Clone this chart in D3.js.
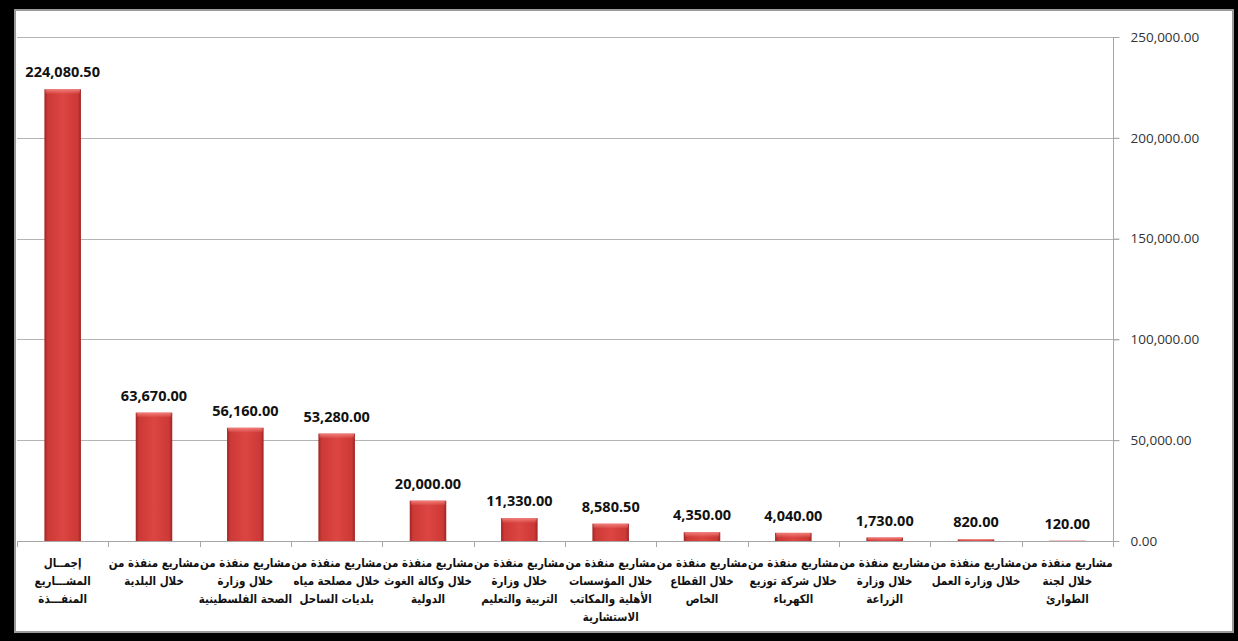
<!DOCTYPE html>
<html>
<head>
<meta charset="utf-8">
<script src="https://cdn.jsdelivr.net/npm/d3@7"></script>
<style>
  html, body { margin: 0; padding: 0; background: #000; }
  svg { display: block; }
</style>
</head>
<body>
<svg id="chart" width="1238" height="641"></svg>
<script>
// category labels, one array of lines per bar
const categoryLines = [
  ['إجمــال', 'المشـــاريع', 'المنفـــذة'],
  ['مشاريع منفذة من', 'خلال البلدية'],
  ['مشاريع منفذة من', 'خلال وزارة', 'الصحة الفلسطينية'],
  ['مشاريع منفذة من', 'خلال مصلحة مياه', 'بلديات الساحل'],
  ['مشاريع منفذة من', 'خلال وكالة الغوث', 'الدولية'],
  ['مشاريع منفذة من', 'خلال وزارة', 'التربية والتعليم'],
  ['مشاريع منفذة من', 'خلال المؤسسات', 'الأهلية والمكاتب', 'الاستشارية'],
  ['مشاريع منفذة من', 'خلال القطاع', 'الخاص'],
  ['مشاريع منفذة من', 'خلال شركة توزيع', 'الكهرباء'],
  ['مشاريع منفذة من', 'خلال وزارة', 'الزراعة'],
  ['مشاريع منفذة من', 'خلال وزارة العمل'],
  ['مشاريع منفذة من', 'خلال لجنة', 'الطوارئ']
];
const categories = categoryLines.map(l => l.join(' '));
const values = [224080.5, 63670, 56160, 53280, 20000, 11330, 8580.5, 4350, 4040, 1730, 820, 120];
const yTicks = [0, 50000, 100000, 150000, 200000, 250000];

const data = categories.map((c, i) => ({ cat: c, lines: categoryLines[i], value: values[i] }));

const svg = d3.select('#chart');

// white chart area with grey frame
svg.append('rect')
  .attr('x', 15).attr('y', 10).attr('width', 1218).attr('height', 622)
  .attr('fill', '#fff').attr('stroke', '#9a9a9a').attr('stroke-width', 2);

const plotLeft = 17, plotRight = 1113, plotTop = 37, plotBottom = 541;

const x = d3.scaleBand().domain(categories).range([plotLeft, plotRight])
  .paddingInner(0.6).paddingOuter(0.3);
const y = d3.scaleLinear().domain([0, 250000]).range([plotBottom, plotTop]);
const step = x.step();

// gradients for the bevelled bars
const defs = svg.append('defs');
const g1 = defs.append('linearGradient').attr('id', 'barH').attr('x1', 0).attr('x2', 1).attr('y1', 0).attr('y2', 0);
[['0%', '#9e2624'], ['9%', '#cc3936'], ['50%', '#dc4542'], ['91%', '#cc3936'], ['100%', '#9e2624']]
  .forEach(s => g1.append('stop').attr('offset', s[0]).attr('stop-color', s[1]));
const g2 = defs.append('linearGradient').attr('id', 'barTop').attr('x1', 0).attr('x2', 0).attr('y1', 0).attr('y2', 1);
g2.append('stop').attr('offset', '0%').attr('stop-color', '#f58580').attr('stop-opacity', 0.9);
g2.append('stop').attr('offset', '100%').attr('stop-color', '#f58580').attr('stop-opacity', 0);

// gridlines
svg.append('g').selectAll('line').data(yTicks).join('line')
  .attr('x1', plotLeft).attr('x2', plotRight + 6)
  .attr('y1', d => Math.round(y(d)) + 0.5).attr('y2', d => Math.round(y(d)) + 0.5)
  .attr('stroke', '#b4b4b4').attr('stroke-width', 1);

// right value axis
const yAxis = svg.append('g')
  .attr('transform', `translate(${plotRight + 0.5},0)`)
  .call(d3.axisRight(y).tickValues(yTicks).tickSize(6).tickPadding(11)
    .tickFormat(d => d3.format(',.2f')(d)));
yAxis.select('.domain').attr('stroke', '#a6a6a6').attr('d', `M0,${plotTop}V${plotBottom}`);
yAxis.selectAll('.tick line').attr('stroke', '#a6a6a6');
yAxis.selectAll('.tick text')
  .attr('font-family', 'Open Sans, sans-serif').attr('font-size', 13.5).attr('fill', '#333');

// category axis line and separators
svg.append('line').attr('x1', plotLeft).attr('x2', plotRight).attr('y1', plotBottom + 0.5).attr('y2', plotBottom + 0.5)
  .attr('stroke', '#a6a6a6');
const seps = d3.range(categories.length + 1).map(i => plotLeft + i * step);
svg.append('g').selectAll('line').data(seps).join('line')
  .attr('x1', d => Math.round(d) + 0.5).attr('x2', d => Math.round(d) + 0.5)
  .attr('y1', plotBottom).attr('y2', plotBottom + 6)
  .attr('stroke', '#a6a6a6');

// bars
const bars = svg.append('g').selectAll('g').data(data).join('g');
bars.append('rect')
  .attr('x', d => x(d.cat)).attr('width', x.bandwidth())
  .attr('y', d => y(d.value)).attr('height', d => plotBottom - y(d.value))
  .attr('fill', 'url(#barH)');
bars.append('rect')
  .attr('x', d => x(d.cat) + 1).attr('width', x.bandwidth() - 2)
  .attr('y', d => y(d.value)).attr('height', d => Math.min(5, plotBottom - y(d.value)))
  .attr('fill', 'url(#barTop)');

// value labels
bars.append('text')
  .attr('x', d => x(d.cat) + x.bandwidth() / 2)
  .attr('y', d => y(d.value) - 12)
  .attr('text-anchor', 'middle')
  .attr('font-family', 'Open Sans, sans-serif').attr('font-weight', 'bold').attr('font-size', 14.5)
  .attr('fill', '#111')
  .text(d => d3.format(',.2f')(d.value));

// category labels (narrowed a bit, DejaVu arabic runs wide)
const labels = svg.append('g').selectAll('text').data(data).join('text')
  .attr('transform', d => `translate(${x(d.cat) + x.bandwidth() / 2},0) scale(0.86,1)`)
  .attr('text-anchor', 'middle')
  .attr('font-family', 'DejaVu Sans, sans-serif').attr('font-weight', 'bold').attr('font-size', 12)
  .attr('fill', '#111');
labels.selectAll('tspan').data(d => d.lines).join('tspan')
  .attr('x', 0)
  .attr('y', (d, i) => 567 + i * 18)
  .text(d => d);
</script>
</body>
</html>
